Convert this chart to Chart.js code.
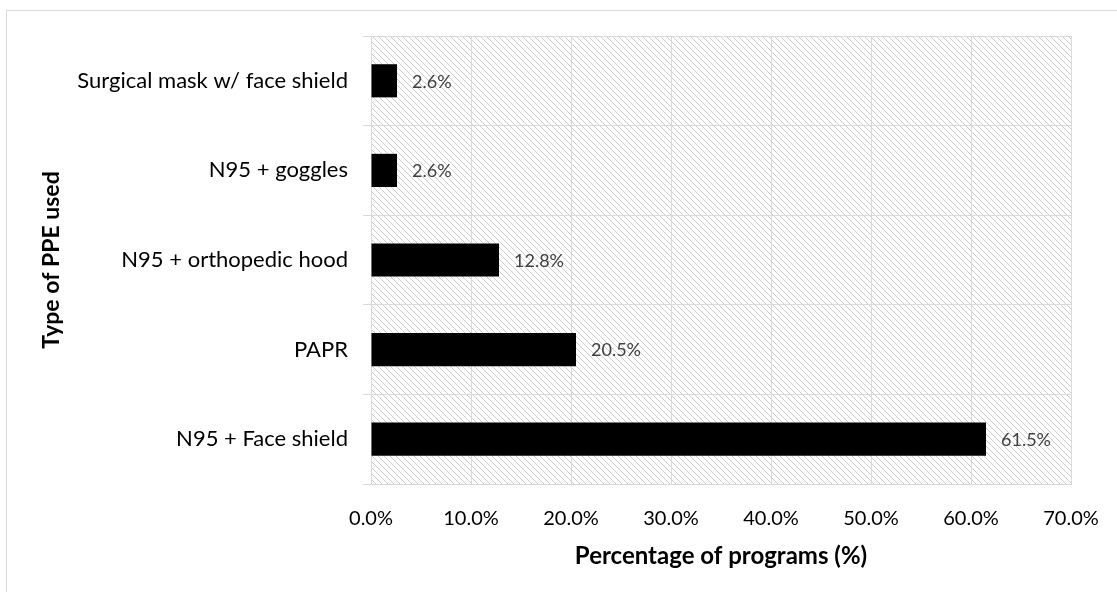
<!DOCTYPE html>
<html>
<head>
<meta charset="utf-8">
<script src="https://cdn.jsdelivr.net/npm/chart.js@4.4.1/dist/chart.umd.min.js"></script>
<style>
  html, body { margin: 0; padding: 0; background: #fff; }
  #wrap { position: relative; width: 1117px; height: 592px; }
  #frame { position: absolute; left: 6px; top: 10px; right: -2px; bottom: -2px; border: 1px solid #d9d9d9; }
  canvas { position: absolute; left: 0; top: 0; }
</style>
</head>
<body>
<div id="wrap">
  <div id="frame"></div>
  <canvas id="ppeChart" width="1117" height="592"></canvas>
</div>
<script>
const categories = ['Surgical mask w/ face shield', 'N95 + goggles', 'N95 + orthopedic hood', 'PAPR', 'N95 + Face shield'];
const percentages = [2.6, 2.6, 12.8, 20.5, 61.5];
const xTicks = [0, 10, 20, 30, 40, 50, 60, 70];

const FONT = 'Lato, "Noto Sans", sans-serif';

// diagonal hatch tile for the plot background
function makeHatch() {
    const s = 6;
    const c = document.createElement('canvas');
    c.width = s; c.height = s;
    const g = c.getContext('2d');
    g.strokeStyle = '#cccccc';
    g.lineWidth = 1;
    g.beginPath();
    g.moveTo(-1, -1); g.lineTo(s + 1, s + 1);
    g.moveTo(s - 1, -1); g.lineTo(s + 1, 1);
    g.moveTo(-1, s - 1); g.lineTo(1, s + 1);
    g.stroke();
    return c;
}

const hatchBackground = {
    id: 'hatchBackground',
    beforeDraw(chart) {
        const { ctx, chartArea: a } = chart;
        ctx.save();
        ctx.fillStyle = ctx.createPattern(makeHatch(), 'repeat');
        ctx.fillRect(a.left, a.top, a.right - a.left, a.bottom - a.top);
        ctx.restore();
    }
};

// value labels to the right of each bar
const barLabels = {
    id: 'barLabels',
    afterDatasetsDraw(chart) {
        const { ctx } = chart;
        const meta = chart.getDatasetMeta(0);
        ctx.save();
        ctx.font = '18px ' + FONT;
        ctx.fillStyle = '#404040';
        ctx.textAlign = 'left';
        ctx.textBaseline = 'middle';
        meta.data.forEach((bar, i) => {
            ctx.fillText(percentages[i].toFixed(1) + '%', bar.x + 15, bar.y + 1);
        });
        ctx.restore();
    }
};

new Chart(document.getElementById('ppeChart'), {
    type: 'bar',
    data: {
        labels: categories,
        datasets: [{
            data: percentages,
            backgroundColor: '#000',
            barPercentage: 0.37,
            categoryPercentage: 1
        }]
    },
    options: {
        indexAxis: 'y',
        responsive: false,
        animation: false,
        layout: { padding: { top: 36, right: 46, left: 0, bottom: 0 } },
        plugins: { legend: { display: false }, tooltip: { enabled: false } },
        scales: {
            x: {
                min: 0,
                max: 70,
                afterFit(scale) {
                    scale.height = 108;
                    scale.paddingLeft = 0;
                    scale.paddingRight = 0;
                },
                afterBuildTicks(scale) { scale.ticks = xTicks.map(v => ({ value: v })); },
                grid: { color: '#d9d9d9', drawTicks: false },
                border: { color: '#d9d9d9' },
                ticks: {
                    padding: 23,
                    color: '#000',
                    font: { family: FONT, size: 20 },
                    callback: v => v.toFixed(1) + '%'
                },
                title: {
                    display: true,
                    text: 'Percentage of programs (%)',
                    color: '#000',
                    font: { family: FONT, size: 24, weight: 'bold' },
                    padding: { top: 0, bottom: 21 }
                }
            },
            y: {
                afterFit(scale) { scale.width = 371; },
                grid: { color: '#d9d9d9', tickLength: 8, offset: true },
                border: { color: '#d9d9d9' },
                ticks: {
                    padding: 15,
                    color: '#000',
                    font: { family: FONT, size: 22 }
                },
                title: {
                    display: true,
                    text: 'Type of PPE used',
                    color: '#000',
                    font: { family: FONT, size: 23, weight: 'bold' },
                    padding: { top: 38, bottom: 0 }
                }
            }
        }
    },
    plugins: [hatchBackground, barLabels]
});
</script>
</body>
</html>
